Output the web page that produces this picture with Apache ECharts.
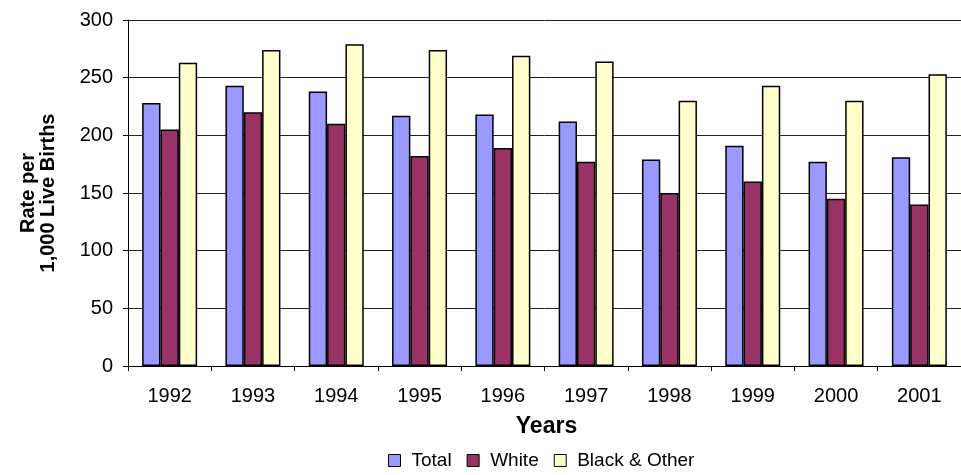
<!DOCTYPE html>
<html>
<head>
<meta charset="utf-8">
<script src="https://cdn.jsdelivr.net/npm/echarts@6/dist/echarts.min.js"></script>
<style>
  html, body { margin: 0; padding: 0; background: #fff; }
  #chart { width: 961px; height: 475px; }
</style>
</head>
<body>
<div id="chart"></div>
<script>
var years = ["1992", "1993", "1994", "1995", "1996", "1997", "1998", "1999", "2000", "2001"];
var total = [228, 243, 238, 217, 218, 212, 179, 191, 177, 181];
var white = [205, 220, 210, 182, 189, 177, 150, 160, 145, 140];
var blackOther = [263, 274, 279, 274, 269, 264, 230, 243, 230, 253];

var myChart = echarts.init(document.getElementById("chart"));

function barSeries(name, data, color) {
  return {
    name: name,
    type: "bar",
    data: data,
    barGap: "0%",
    barCategoryGap: "34%",
    itemStyle: { color: color, borderColor: "#000", borderWidth: 1.5 }
  };
}

myChart.setOption({
  animation: false,
  textStyle: { fontFamily: "Liberation Sans, Arial, sans-serif" },
  grid: { left: 128, right: -11, top: 20, bottom: 109 },
  legend: {
    left: 388,
    top: 451,
    padding: 0,
    itemWidth: 12,
    itemHeight: 12,
    itemGap: 15,
    icon: "rect",
    textStyle: { fontSize: 19, color: "#000", padding: [0, 0, 0, 6] },
    data: [
      { name: "Total", itemStyle: { borderColor: "#000", borderWidth: 1 } },
      { name: "White", itemStyle: { borderColor: "#000", borderWidth: 1 } },
      { name: "Black & Other", itemStyle: { borderColor: "#000", borderWidth: 1 } }
    ]
  },
  xAxis: {
    type: "category",
    data: years,
    name: "Years",
    nameLocation: "middle",
    nameGap: 49,
    nameTextStyle: { fontSize: 23, fontWeight: "bold", color: "#000", padding: [0, 0, 0, 4] },
    axisLine: { lineStyle: { color: "#000" } },
    axisTick: { show: true, alignWithLabel: false, length: 5, lineStyle: { color: "#000" } },
    axisLabel: { fontSize: 20, color: "#000", margin: 20 }
  },
  yAxis: {
    type: "value",
    min: 0,
    max: 300,
    interval: 50,
    name: "Rate per\n1,000 Live Births",
    nameLocation: "middle",
    nameGap: 70,
    nameRotate: 90,
    nameTextStyle: { fontSize: 20, fontWeight: "bold", color: "#000", lineHeight: 20 },
    axisLine: { show: true, lineStyle: { color: "#000" } },
    axisTick: { show: true, length: 5, lineStyle: { color: "#000" } },
    axisLabel: { fontSize: 20, color: "#000", margin: 15 },
    splitLine: { show: true, lineStyle: { color: "#222" } }
  },
  series: [
    barSeries("Total", total, "#9999FF"),
    barSeries("White", white, "#993366"),
    barSeries("Black & Other", blackOther, "#FFFFCC")
  ]
});
</script>
</body>
</html>
